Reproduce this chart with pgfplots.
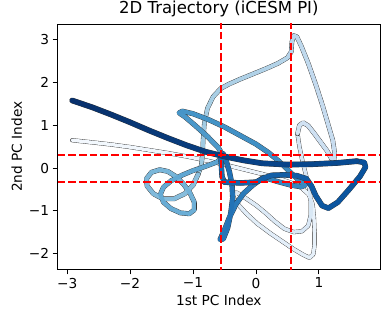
\documentclass[border=0pt]{standalone}
\usepackage{pgfplots}
\pgfplotsset{compat=1.18}
\usepackage{pgfplotstable}
\usepackage{fontspec}
\setmainfont{DejaVu Sans}

\pgfplotstableread{
x y
-2.92 0.65
-2.6 0.6
-2.3 0.55
-2.0 0.49
-1.7 0.42
-1.4 0.35
-1.1 0.27
-0.8 0.18
-0.5 0.08
-0.2 -0.03
0.1 -0.14
0.35 -0.24
0.55 -0.34
0.72 -0.46
0.84 -0.62
0.9 -0.85
0.92 -1.15
0.93 -1.5
0.93 -1.8
0.91 -2.02
0.85 -2.1
0.75 -2.03
0.6 -1.9
0.42 -1.72
0.22 -1.52
0.02 -1.3
-0.15 -1.07
-0.28 -0.86
-0.36 -0.68
-0.37 -0.58
-0.3 -0.58
-0.17 -0.7
0.0 -0.87
0.15 -1.05
0.3 -1.25
0.45 -1.42
0.6 -1.5
0.73 -1.48
0.83 -1.35
0.87 -1.1
0.87 -0.8
0.85 -0.5
0.8 -0.2
0.74 0.15
0.69 0.5
0.66 0.8
}\cA

\pgfplotstableread{
x y
0.66 0.8
0.69 1.0
0.75 1.06
0.83 0.99
0.93 0.8
1.03 0.6
1.13 0.4
1.2 0.22
1.24 0.2
1.25 0.35
1.22 0.65
1.15 1.0
1.06 1.45
0.95 1.95
0.83 2.45
0.72 2.85
0.65 3.07
0.6 3.1
0.57 2.95
0.56 2.72
0.5 2.58
0.35 2.45
0.15 2.32
-0.05 2.2
-0.25 2.08
-0.42 1.97
-0.56 1.86
-0.68 1.67
-0.77 1.4
-0.82 1.05
-0.84 0.65
-0.85 0.3
-0.87 0.05
-0.92 -0.15
}\cB

\pgfplotstableread{
x y
-0.92 -0.15
-1.0 -0.4
-1.13 -0.6
-1.3 -0.72
-1.48 -0.72
-1.63 -0.6
-1.73 -0.42
-1.74 -0.25
-1.66 -0.1
-1.53 -0.04
-1.4 -0.08
-1.27 -0.2
-1.15 -0.38
-1.05 -0.58
-0.98 -0.8
-0.98 -0.98
-1.06 -1.07
-1.2 -1.05
-1.35 -0.95
-1.47 -0.8
-1.52 -0.62
-1.47 -0.45
-1.35 -0.3
-1.18 -0.17
-1.0 -0.06
-0.8 0.04
-0.62 0.14
-0.52 0.28
}\cC

\pgfplotstableread{
x y
-0.52 0.28
-0.6 0.48
-0.78 0.75
-0.97 1.0
-1.13 1.2
-1.22 1.29
-1.17 1.33
-1.0 1.27
-0.75 1.13
-0.5 0.96
-0.25 0.76
0.0 0.56
0.2 0.36
0.38 0.14
0.53 -0.08
0.67 -0.27
0.78 -0.4
0.72 -0.44
0.55 -0.4
0.35 -0.32
0.12 -0.22
}\cD

\pgfplotstableread{
x y
0.12 -0.22
-0.05 -0.4
-0.2 -0.6
-0.32 -0.85
-0.42 -1.15
-0.5 -1.45
-0.57 -1.67
-0.52 -1.66
-0.45 -1.4
-0.4 -1.05
-0.37 -0.7
-0.38 -0.4
-0.42 -0.1
-0.47 0.15
-0.52 0.33
-0.56 0.3
-0.55 0.05
-0.54 -0.2
-0.5 -0.33
}\cE

\pgfplotstableread{
x y
-0.5 -0.33
-0.25 -0.35
0.0 -0.33
0.12 -0.24
0.25 -0.17
0.45 -0.16
0.65 -0.18
0.8 -0.25
0.88 -0.42
0.95 -0.65
1.05 -0.88
1.15 -0.94
1.3 -0.8
1.48 -0.5
1.65 -0.2
1.74 0.02
1.72 0.13
1.6 0.16
}\cF

\pgfplotstableread{
x y
1.6 0.16
1.3 0.12
0.9 0.09
0.5 0.08
0.1 0.11
-0.2 0.18
-0.5 0.27
-0.8 0.38
-1.1 0.53
-1.4 0.7
-1.7 0.88
-2.0 1.07
-2.3 1.25
-2.6 1.42
-2.92 1.58
}\cG

\begin{document}
\begin{tikzpicture}
\path[use as bounding box] (-57.7pt,-56.7pt) rectangle (324.3pt,269.3pt);
\begin{axis}[
  at={(0pt,0pt)}, anchor=south west,
  width=322.3pt, height=245.3pt, scale only axis,
  xmin=-3.15, xmax=1.97, ymin=-2.37, ymax=3.37,
  xtick={-3,-2,-1,0,1}, xticklabels={−3,−2,−1,0,1},
  ytick={-2,-1,0,1,2,3}, yticklabels={−2,−1,0,1,2,3},
  tick align=outside, tick pos=left, major tick length=5pt,
  every tick/.style={black, line width=0.9pt},
  axis line style={black, line width=0.9pt},
  ticklabel style={font=\fontsize{13.7}{16}\selectfont},
  xlabel={1st PC Index}, ylabel={2nd PC Index},
  label style={font=\fontsize{13.7}{16}\selectfont},
  title={2D Trajectory (iCESM PI)},
  title style={font=\fontsize{16.5}{19}\selectfont, yshift=-2pt},
  colormap={blues}{rgb255=(247,251,255) rgb255=(222,235,247) rgb255=(198,219,239) rgb255=(158,202,225) rgb255=(107,174,214) rgb255=(66,146,198) rgb255=(33,113,181) rgb255=(8,81,156) rgb255=(8,48,107)},
  point meta min=0, point meta max=1,
  every axis plot/.append style={line cap=round, line join=round},
]
% chunk A
\addplot[black!80, line width=4.2pt, forget plot] table {\cA};
\addplot[mesh, line width=3.5pt, point meta={0.02+0.00333*\coordindex}] table {\cA};
% chunk B
\addplot[black!80, line width=4.6pt, forget plot] table {\cB};
\addplot[mesh, line width=3.9pt, point meta={0.18+0.00606*\coordindex}] table {\cB};
% chunk C
\addplot[black!80, line width=4.9pt, forget plot] table {\cC};
\addplot[mesh, line width=4.2pt, point meta={0.42+0.00481*\coordindex}] table {\cC};
% chunk D
\addplot[black!80, line width=5.1pt, forget plot] table {\cD};
\addplot[mesh, line width=4.4pt, point meta={0.58+0.005*\coordindex}] table {\cD};
% chunk E
\addplot[black!80, line width=5.3pt, forget plot] table {\cE};
\addplot[mesh, line width=4.6pt, point meta={0.70+0.00444*\coordindex}] table {\cE};
% chunk F
\addplot[black!80, line width=5.5pt, forget plot] table {\cF};
\addplot[mesh, line width=4.8pt, point meta={0.80+0.0047*\coordindex}] table {\cF};
% chunk G
\addplot[black!80, line width=5.7pt, forget plot] table {\cG};
\addplot[mesh, line width=5.0pt, point meta={0.90+0.00714*\coordindex}] table {\cG};
% reference lines
\addplot[red, line width=2pt, dash pattern=on 7.5pt off 3.2pt, line cap=butt] coordinates {(-0.556,-3) (-0.556,4)};
\addplot[red, line width=2pt, dash pattern=on 7.5pt off 3.2pt, line cap=butt] coordinates {(0.556,-3) (0.556,4)};
\addplot[red, line width=2pt, dash pattern=on 7.5pt off 3.2pt, line cap=butt] coordinates {(-4,0.31) (3,0.31)};
\addplot[red, line width=2pt, dash pattern=on 7.5pt off 3.2pt, line cap=butt] coordinates {(-4,-0.32) (3,-0.32)};
\end{axis}
\end{tikzpicture}
\end{document}
